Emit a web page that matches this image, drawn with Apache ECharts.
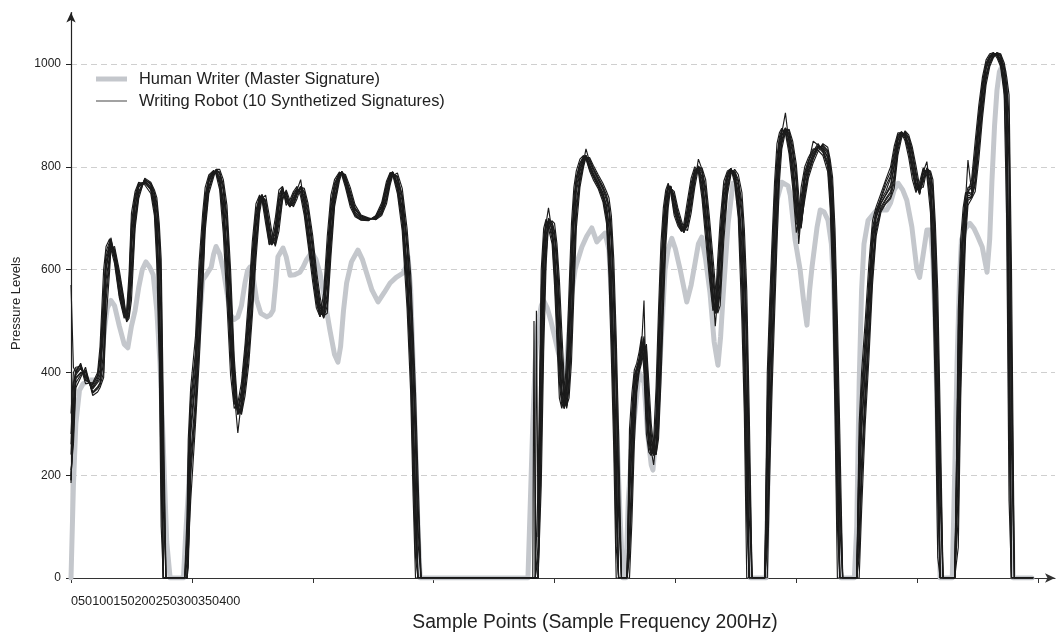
<!DOCTYPE html>
<html>
<head>
<meta charset="utf-8">
<script src="https://cdn.jsdelivr.net/npm/echarts@6/dist/echarts.min.js"></script>
<style>
html,body{margin:0;padding:0;background:#fff;}
#main{width:1057px;height:632px;}
</style>
</head>
<body>
<div id="main"></div>
<script>
// ---- tick labels ----
const xTickLabels = ['0','50','100','150','200','250','300','350','400'];
const xTickValues = [0,50,100,150,200,250,300,350,400];
const yTickValues = [0,200,400,600,800,1000];

const humanName = 'Human Writer (Master Signature)';
const robotName = 'Writing Robot (10 Synthetized Signatures)';

// ---- Human writer (master signature): [sample, pressure] ----
const humanWriter = [[0,0],[1,180],[2,300],[3.5,365],[5,378],[8,385],[11,385],[12,395],[13,440],[14,490],[15,525],[16.5,540],[18,530],[20,490],[22,455],[23.5,448],[25,490],[26.5,520],[28,565],[29.5,600],[31,615],[32.5,605],[34,590],[35.5,520],[36.8,418],[38,280],[39.6,70],[41,0],[46.5,0],[47.5,90],[48.5,165],[50,300],[52,418],[53.5,520],[54.5,580],[56,590],[58,605],[59,630],[60,645],[61.5,630],[63,600],[64.5,555],[66,512],[67.5,503],[69,508],[70.5,530],[72,575],[73,598],[74,605],[75,595],[76.8,541],[78.5,515],[81,508],[82.5,512],[83.6,521],[84.6,570],[85.6,625],[87.7,642],[89,625],[90.6,589],[92.5,590],[94.7,595],[96,605],[97.5,620],[99.6,634],[101.3,620],[103,593],[105,540],[107.1,482],[109,435],[110.4,420],[111.5,450],[112.7,520],[114,574],[116,615],[118.7,638],[120.5,620],[122.3,593],[124.5,560],[127,537],[129.5,555],[132,574],[134.5,585],[137.3,593],[138.5,605],[139.4,625],[140.5,560],[141.5,420],[142.5,260],[143.5,100],[144.4,0],[189,0],[190,150],[191,300],[192,420],[193,490],[194.5,530],[195.5,540],[197,525],[198.5,500],[200,470],[201.5,440],[203,410],[204,390],[205,420],[206,480],[207,550],[208.5,600],[209.2,612],[211.3,644],[213.3,665],[215.4,681],[217.5,654],[219,662],[220.9,671],[222.5,638],[224.2,482],[225.5,320],[227.1,120],[228.3,0],[229.5,0],[230.5,150],[232.5,288],[235,400],[237,380],[238.5,280],[240,220],[240.7,210],[242,280],[243.6,418],[245.7,599],[247,640],[248.5,661],[250,640],[252,599],[254.7,537],[256.5,570],[258.1,612],[259.5,650],[260.9,663],[262.5,620],[264.3,555],[266,460],[267.6,414],[268.7,470],[269.7,547],[271.8,690],[273.8,768],[275.5,755],[277,700],[278,600],[279,420],[280,200],[281,0],[287.5,0],[288.5,250],[289.5,470],[290.5,590],[291.5,690],[292,735],[294,770],[296.6,763],[297.5,745],[299.5,658],[301.6,599],[303,540],[304.4,492],[305.5,560],[306.5,605],[308.6,683],[309.9,716],[311.5,712],[313.1,696],[314.5,650],[315.5,560],[316.5,380],[317.5,150],[318.5,0],[324,0],[325,100],[326,380],[327,560],[328,650],[329.7,696],[333.3,716],[337.4,716],[339,730],[340.5,755],[342.1,768],[344,755],[345.7,735],[347.8,683],[349.9,599],[351,585],[352.5,630],[354,677],[355.5,677],[356.5,620],[357.5,480],[358.5,260],[359.5,0],[364.5,0],[365.5,200],[366.5,420],[367.5,580],[368.3,658],[370,680],[371.8,690],[373.5,680],[375,665],[376.9,644],[378.9,595],[380,660],[380.9,770],[382,880],[383,949],[384,985],[385,995],[386,985],[387,930],[388,600],[389,150],[389.7,0],[397.5,0]];

// ---- Writing robot: each row = [sample, sig1 .. sig10], one table per pen stroke ----
const robotStroke1 = [
[0,185,570,200,260,190,320,210,240,190,280],
[1,330,410,280,370,310,400,260,345,300,380],
[2,395,400,380,405,390,410,370,398,388,402],
[4,408,418,395,415,400,412,390,410,398,414],
[6,395,385,405,390,400,378,410,392,402,385],
[9,368,375,360,372,362,380,355,370,360,378],
[11,380,395,368,388,372,400,362,384,370,392],
[12,388,430,375,405,380,450,370,395,378,420],
[13.5,480,560,400,520,440,600,390,500,420,540],
[14.5,600,635,540,615,580,645,500,605,560,625],
[16,640,655,615,648,630,660,600,645,625,650],
[16.5,655,650,645,660,648,640,640,662,650,652],
[18,630,620,640,625,635,612,645,628,638,622],
[20,570,550,590,560,580,545,598,565,585,555],
[22,520,510,535,515,528,505,540,518,530,512],
[23,505,510,500,505,502,520,498,505,500,508],
[24,530,570,510,550,518,590,505,538,512,560],
[25,640,690,570,665,610,710,540,650,590,680],
[26.5,720,745,690,735,705,752,680,725,698,740],
[28,760,768,745,765,752,770,738,762,750,766],
[30.5,772,770,775,768,776,765,778,772,775,770],
[33,762,755,768,758,765,748,770,760,766,756],
[34.5,735,715,750,725,742,705,755,732,748,720],
[35.5,690,640,730,670,710,610,740,685,720,660],
[36.5,580,470,670,520,630,420,690,560,660,500],
[37.3,400,180,580,300,490,100,620,350,550,260],
[38.2,0,0,250,0,130,0,330,0,200,0],
[39.3,0,0,0,0,0,0,0,0,0,0],
[47,0,0,0,0,0,0,0,0,0,0]];

const robotStroke2 = [
[48,0,80,0,30,0,120,0,0,0,50],
[48.5,120,230,20,170,60,270,0,140,40,200],
[49.5,280,350,200,320,240,370,150,295,220,335],
[51.5,380,440,320,410,350,470,300,392,330,430],
[53,520,590,450,555,485,615,420,535,470,570],
[54.5,640,690,585,665,612,712,565,650,600,680],
[55.5,720,745,690,732,705,760,675,725,700,740],
[57,770,780,755,775,762,784,748,772,760,778],
[59,790,792,785,791,788,793,780,790,786,792],
[60,792,788,794,790,793,785,795,792,794,789],
[61.5,780,765,790,772,786,755,795,777,788,768],
[63,735,695,765,715,752,670,775,728,760,705],
[64.5,640,570,705,605,672,535,725,625,690,590],
[66,500,430,570,465,535,395,600,485,555,445],
[67.5,370,340,410,352,390,330,430,362,400,345],
[69,318,330,320,322,318,340,330,282,322,325],
[70.5,340,365,322,352,330,380,318,345,325,360],
[72,400,440,370,420,385,455,355,408,378,425],
[73.5,480,530,435,505,460,550,415,490,445,515],
[75,580,635,530,605,555,655,510,592,540,620],
[76.5,680,715,640,700,660,728,620,688,650,708],
[78,735,742,720,740,728,745,710,737,725,742],
[79,745,740,742,744,746,735,738,746,745,742],
[80.5,720,700,735,710,728,690,745,716,732,705],
[82,670,650,690,660,680,648,705,665,685,655],
[83,648,650,660,648,652,660,675,648,658,650],
[84.5,660,685,648,672,652,700,645,664,650,680],
[86,720,745,690,732,705,755,675,725,700,740],
[87.5,755,760,740,758,750,762,735,756,748,760],
[89,740,730,752,735,745,725,755,738,748,732],
[90.5,722,728,725,722,724,735,735,722,726,725],
[92,735,748,725,740,730,752,722,737,728,745],
[93.5,752,758,745,755,750,762,738,753,748,757],
[95,758,750,762,775,760,742,760,758,762,752],
[96.5,735,715,752,725,742,705,758,732,748,720],
[98,690,660,720,675,705,650,730,685,712,665],
[100,620,590,650,605,635,575,665,615,645,598],
[101.5,560,535,585,548,572,525,600,555,580,540],
[103,515,508,535,512,522,508,548,514,528,510],
[104.5,510,535,505,520,508,555,510,512,506,528],
[106,580,640,530,610,555,665,515,592,545,625],
[107.5,690,730,645,710,670,745,625,698,660,720],
[109,750,768,730,760,740,775,722,754,736,765],
[111,785,788,778,787,782,790,772,785,780,788],
[112,790,788,790,789,791,784,788,790,791,789],
[113.5,775,765,782,770,779,760,785,774,780,768],
[115.5,740,728,752,734,746,722,760,738,750,730],
[117.5,712,705,720,708,716,703,726,711,718,706],
[120,700,697,704,698,702,696,706,700,703,697],
[123,698,696,700,697,699,695,701,698,700,696],
[126,700,703,698,702,699,705,697,700,698,704],
[128.5,715,725,708,720,712,730,705,716,710,722],
[130.5,750,766,735,758,742,772,728,752,738,762],
[132,780,787,770,784,775,789,765,781,772,786],
[133,790,789,786,790,789,786,782,790,788,790],
[135,770,755,782,762,776,748,788,767,780,758],
[137,720,690,745,705,732,675,758,715,740,698],
[139,610,555,660,580,640,525,680,600,650,570],
[140.5,480,400,560,440,520,360,590,460,540,420],
[141.5,330,210,450,270,390,160,480,300,420,240],
[142.5,180,40,310,110,250,0,360,150,280,80],
[143.5,0,0,150,0,70,0,200,0,100,0],
[144.8,0,0,0,0,0,0,0,0,0,0],
[191,0,0,0,0,0,0,0,0,0,0]];

const robotStroke3 = [
[191.5,0,0,0,0,0,500,0,0,0,0],
[192,0,0,0,0,0,0,0,0,0,0],
[192.5,0,520,0,0,0,0,0,0,0,0],
[193.2,0,80,0,40,0,180,0,0,0,60],
[194.5,420,560,250,500,340,600,180,450,300,530],
[195.5,600,660,500,640,560,680,440,620,530,650],
[196.5,680,695,630,690,665,698,610,685,650,692],
[197.5,695,690,690,720,698,680,688,695,700,690],
[199,680,660,692,672,686,650,695,678,690,668],
[200,640,590,675,620,660,570,690,630,670,610],
[201,570,490,630,530,605,460,650,555,620,515],
[202,460,380,545,420,500,350,580,440,520,400],
[203,370,335,440,350,400,330,480,360,420,345],
[204,330,340,360,330,340,350,385,330,350,335],
[205,350,395,330,370,335,430,335,360,332,385],
[206,430,520,370,470,395,560,350,450,380,490],
[207,560,650,460,610,510,690,420,585,480,625],
[208,680,740,590,715,640,760,550,695,610,725],
[209,750,780,705,770,730,792,680,760,715,775],
[210.5,790,808,770,800,782,815,760,795,775,805],
[212,815,820,805,818,810,822,800,816,808,820],
[213,822,818,820,822,835,815,818,822,821,820],
[214.5,805,795,815,800,810,792,818,803,812,798],
[216,788,780,798,784,793,775,803,787,796,782],
[218,770,762,780,766,775,758,785,769,777,764],
[220,750,738,762,744,756,732,768,748,759,741],
[221.5,725,700,745,712,735,690,752,720,740,705],
[222.5,690,620,725,655,710,590,740,680,720,640],
[223.5,600,480,680,540,650,430,705,570,670,510],
[224.5,450,300,580,380,520,250,620,410,550,340],
[225.5,270,60,420,170,360,0,470,220,390,120],
[226.5,0,0,200,0,120,0,280,0,160,0],
[227.7,0,0,0,0,0,0,0,0,0,0],
[230,0,0,0,0,0,0,0,0,0,0]];

const robotStroke4 = [
[231,150,250,40,200,90,290,0,170,60,230],
[232,250,330,160,290,210,360,110,270,180,315],
[233,360,395,300,380,330,405,260,368,315,390],
[234,400,410,375,405,390,418,360,402,385,408],
[235,415,428,405,420,410,440,400,417,408,425],
[236,440,465,425,452,432,470,418,445,428,458],
[237,470,420,455,540,462,400,440,465,458,440],
[238,380,310,445,345,410,280,455,370,430,330],
[239,290,255,350,270,320,245,380,285,335,265],
[240,250,240,280,245,262,238,300,248,270,242],
[241,240,250,245,242,238,270,255,220,240,248],
[242,255,320,240,285,245,370,240,265,242,300],
[243,380,480,290,430,330,520,270,400,310,450],
[244,520,610,420,570,470,650,380,545,440,590],
[245,640,700,560,675,600,720,520,655,580,690],
[246,715,745,670,735,695,755,645,722,685,740],
[247,755,765,735,760,745,768,720,757,740,762],
[248,762,758,760,762,763,752,758,762,762,760],
[249.5,730,712,745,722,738,705,752,727,742,716],
[251,700,690,712,695,706,685,720,698,709,692],
[252.5,680,675,688,677,684,674,695,679,686,676],
[253.5,673,680,675,675,672,690,680,673,672,678],
[255,700,722,685,710,692,735,676,704,688,716],
[256.5,745,768,722,756,734,778,710,749,728,762],
[258,785,795,770,790,778,800,760,787,774,793],
[259.5,800,796,815,800,801,790,798,800,802,797],
[261,780,750,795,765,788,738,798,775,792,758],
[262.5,720,680,760,700,742,660,775,712,750,690],
[264,640,600,685,620,662,585,705,632,675,610],
[265.5,560,530,600,545,580,520,625,555,590,538],
[266.5,515,520,545,515,530,530,570,490,540,515],
[267.5,540,590,520,565,528,620,515,550,522,575],
[268.5,610,670,555,640,580,695,530,622,565,655],
[270,720,760,680,740,700,772,655,728,690,750],
[271.5,775,788,755,782,766,792,745,778,762,785],
[273,795,797,790,796,793,796,786,795,792,797],
[274.5,785,775,792,780,788,768,795,783,790,778],
[276,750,715,775,732,762,700,785,745,770,725],
[277.5,660,560,730,610,700,500,750,640,715,590],
[278.5,520,380,640,450,580,320,680,490,610,420],
[279.5,330,110,500,220,430,0,560,290,470,180],
[280.5,0,0,250,0,120,0,330,0,180,0],
[281.7,0,0,0,0,0,0,0,0,0,0],
[287,0,0,0,0,0,0,0,0,0,0]];

const robotStroke5 = [
[288,200,340,60,270,120,400,0,230,90,310],
[289,380,500,250,440,320,540,200,410,290,470],
[290,520,620,420,570,470,660,370,545,440,600],
[291,650,740,560,700,600,770,510,670,580,720],
[292,760,820,690,790,725,845,650,772,710,805],
[293,830,858,795,845,812,866,770,836,805,852],
[294,860,872,845,866,852,875,835,862,848,869],
[295.5,875,870,872,905,876,865,868,875,874,871],
[297,855,835,870,845,862,825,873,851,866,840],
[298.5,810,775,840,792,825,760,850,805,832,785],
[300,740,690,790,715,765,672,805,730,775,705],
[301,670,680,720,672,690,700,745,650,705,675],
[302,700,740,680,720,688,760,690,705,682,730],
[303.5,770,790,745,780,758,800,735,774,752,786],
[305,800,812,785,806,794,818,778,802,790,810],
[307,825,832,815,850,820,835,808,826,818,830],
[309,840,838,836,842,840,832,830,840,838,845],
[311,836,828,842,832,838,822,845,835,840,830],
[313,820,800,832,810,826,790,838,817,830,805],
[314,780,740,805,760,795,720,815,775,800,750],
[315,700,620,760,660,730,580,780,690,745,640],
[316,520,380,640,450,580,320,680,500,610,420],
[317,280,100,440,190,360,0,500,240,400,150],
[318,0,0,200,0,100,0,280,0,140,0],
[319.2,0,0,0,0,0,0,0,0,0,0],
[325,0,0,0,0,0,0,0,0,0,0]];

const robotStroke6 = [
[326,150,260,40,210,90,300,0,170,60,240],
[327,280,370,180,330,230,400,130,300,200,350],
[328.5,400,470,330,440,365,500,300,415,350,455],
[330,520,580,455,550,490,610,425,535,470,565],
[331.5,640,680,590,660,615,695,570,648,605,670],
[333,700,715,675,708,688,722,665,703,682,712],
[335,728,740,715,735,722,748,712,730,718,738],
[337,745,770,730,752,738,775,728,746,735,762],
[339,760,790,742,778,752,800,738,765,748,782],
[340.5,800,830,770,815,785,840,758,806,778,822],
[342,850,862,832,856,842,866,822,852,838,860],
[343.5,866,868,860,868,864,866,855,866,862,868],
[345,863,855,868,860,865,850,870,862,866,858],
[346.5,845,828,858,838,852,818,862,842,855,834],
[348,810,788,830,800,820,775,838,806,825,795],
[349.5,770,755,790,762,780,750,802,767,785,758],
[351,748,760,752,752,748,770,762,746,750,756],
[352.5,785,795,770,790,778,798,760,786,774,792],
[354,795,790,798,810,796,782,795,793,797,790],
[355.5,770,730,788,752,780,710,792,765,785,742],
[356.5,700,600,760,650,735,560,775,685,750,630],
[357.5,560,420,660,490,615,360,690,535,640,460],
[358.5,350,150,500,250,430,40,560,310,470,200],
[359.5,0,0,250,0,150,0,320,0,200,0],
[360.7,0,0,0,0,0,0,0,0,0,0],
[365.5,0,0,0,0,0,0,0,0,0,0]];

const robotStroke7 = [
[366,0,60,0,0,0,120,0,0,0,0],
[367,300,480,120,400,210,520,60,340,170,440],
[368,520,620,400,580,460,660,350,540,430,600],
[369,650,700,570,680,610,720,530,660,590,690],
[370,720,745,680,735,700,750,660,725,690,740],
[371,750,752,735,813,745,750,725,752,740,760],
[372.5,745,760,740,752,742,775,738,748,740,762],
[374,790,830,765,810,775,850,752,796,770,820],
[375.5,870,905,835,888,850,920,815,876,842,895],
[377,940,965,910,952,925,975,895,944,918,958],
[378.5,990,1002,970,996,980,1008,960,992,975,1000],
[380,1010,1016,1000,1013,1005,1020,995,1011,1003,1015],
[381.5,1020,1022,1015,1021,1018,1022,1012,1020,1017,1021],
[383,1020,1016,1022,1018,1021,1012,1022,1020,1021,1017],
[384.5,1010,1000,1018,1005,1014,995,1020,1008,1016,1002],
[386,975,950,995,962,985,940,1002,970,990,955],
[387,930,800,960,900,945,700,975,920,955,870],
[388,600,300,900,450,800,150,940,520,850,380],
[389,0,0,450,0,250,0,600,0,350,0],
[390.2,0,0,0,0,0,0,0,0,0,0],
[398,0,0,0,0,0,0,0,0,0,0]];

const robotStrokes = [robotStroke1, robotStroke2, robotStroke3, robotStroke4, robotStroke5, robotStroke6, robotStroke7];

// ---- build series ----
const FONT = 'Liberation Sans, Arial, sans-serif';
const series = [{
  name: humanName, type: 'line', data: humanWriter,
  showSymbol: false, symbol: 'none', animation: false, silent: true, z: 2,
  lineStyle: {color: '#c4c7cc', width: 5, join: 'round', cap: 'round'},
  itemStyle: {color: '#c4c7cc'}
}];
for (let k = 1; k <= 10; k++) {
  const data = [];
  robotStrokes.forEach(st => st.forEach(row => data.push([row[0], row[k]])));
  series.push({
    name: robotName, type: 'line', data: data,
    showSymbol: false, symbol: 'none', animation: false, silent: true, z: 3,
    lineStyle: {color: '#1b1b1b', width: 1.15},
    itemStyle: {color: '#1b1b1b'}
  });
}

const chart = echarts.init(document.getElementById('main'), null, {renderer: 'canvas'});
chart.setOption({
  backgroundColor: '#ffffff',
  animation: false,
  textStyle: {fontFamily: FONT},
  legend: {
    orient: 'vertical', left: 91, top: 66,
    itemWidth: 31, itemHeight: 14, itemGap: 6,
    data: [
      {name: humanName, icon: 'path://M0,0M31,14M0,4.5L31,4.5L31,9.5L0,9.5Z', itemStyle: {color: '#c4c7cc'}},
      {name: robotName, icon: 'path://M0,0M31,14M0,6.5L31,6.5L31,7.5L0,7.5Z', itemStyle: {color: '#444'}}
    ],
    textStyle: {fontSize: 16.4, color: '#222', fontFamily: FONT, padding: [0,0,0,7]},
    selectedMode: false
  },
  grid: {left: 71, right: 2, top: 12.6, bottom: 54, containLabel: false, outerBoundsMode: 'none'},
  xAxis: {
    type: 'value', min: 0, max: 407, interval: 50,
    name: 'Sample Points (Sample Frequency 200Hz)', nameLocation: 'middle', nameGap: 32,
    nameTextStyle: {fontSize: 19.3, color: '#222', fontFamily: FONT, padding: [0,0,0,64]},
    axisLine: {show: true, lineStyle: {color: '#333', width: 1.2}, symbol: ['none','arrow'], symbolSize: [7,10]},
    axisTick: {show: true, length: 5, lineStyle: {color: '#333'}, customValues: xTickValues},
    axisLabel: {
      customValues: [0],
      formatter: v => (v === 0 ? xTickLabels.join('') : ''),
      align: 'left', margin: 17, fontSize: 12.7, color: '#222', fontFamily: FONT
    },
    splitLine: {show: false}
  },
  yAxis: {
    type: 'value', min: 0, max: 1100, interval: 200,
    name: 'Pressure Levels', nameLocation: 'middle', nameGap: 47,
    nameTextStyle: {fontSize: 13, color: '#222', fontFamily: FONT, padding: [0,16,0,0]},
    axisLine: {show: true, lineStyle: {color: '#222', width: 1.2}, symbol: ['none','arrow'], symbolSize: [7,10]},
    axisTick: {show: true, length: 5, lineStyle: {color: '#222'}, customValues: yTickValues},
    axisLabel: {customValues: yTickValues, formatter: v => String(v), margin: 10, fontSize: 12, color: '#222', fontFamily: FONT},
    splitLine: {show: true, showMaxLine: true, showMinLine: false, lineStyle: {color: '#cfcfcf', type: [6,4], width: 1}}
  },
  series: series
});
</script>
</body>
</html>
